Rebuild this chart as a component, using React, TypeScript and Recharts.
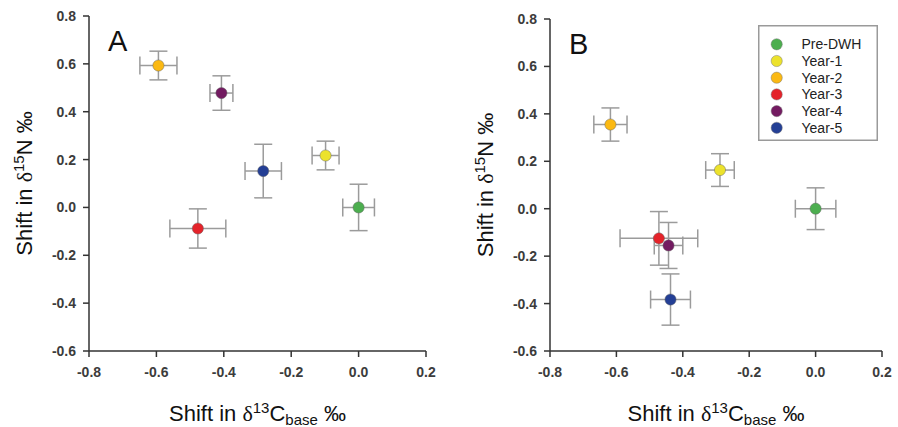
import React from 'react';
import { ScatterChart, Scatter, XAxis, YAxis, ErrorBar, Legend } from 'recharts';

const FONT = '"Liberation Sans", Arial, Helvetica, sans-serif';
const SERIF = '"Liberation Serif", "Times New Roman", serif';

// Periods (legend order) and their marker colours
const seriesNames = ['Pre-DWH', 'Year-1', 'Year-2', 'Year-3', 'Year-4', 'Year-5'];
const seriesColors = ['#4cae4f', '#ece22c', '#fbb913', '#e4232a', '#731b61', '#243f95'];

// Axis ticks
const xTicks = [-0.8, -0.6, -0.4, -0.2, 0.0, 0.2];
const yTicks = [-0.6, -0.4, -0.2, 0.0, 0.2, 0.4, 0.6, 0.8];

// Panel A: mean shifts and error half-widths (‰)
const shiftC13A = [0, -0.098, -0.594, -0.477, -0.407, -0.283];
const shiftN15A = [0, 0.217, 0.593, -0.088, 0.478, 0.152];
const errC13A = [0.047, 0.04, 0.055, 0.083, 0.034, 0.054];
const errN15A = [0.097, 0.06, 0.06, 0.082, 0.072, 0.112];

// Panel B: mean shifts and error half-widths (‰)
const shiftC13B = [0, -0.288, -0.618, -0.472, -0.443, -0.437];
const shiftN15B = [0, 0.163, 0.355, -0.125, -0.155, -0.383];
const errC13B = [0.061, 0.043, 0.05, 0.117, 0.043, 0.06];
const errN15B = [0.088, 0.069, 0.07, 0.113, 0.097, 0.108];

type Row = { x: number; y: number; ex: number; ey: number };

const buildSeries = (xs: number[], ys: number[], exs: number[], eys: number[]) =>
  seriesNames.map((name, i) => ({
    name,
    color: seriesColors[i],
    data: [{ x: xs[i], y: ys[i], ex: exs[i], ey: eys[i] }] as Row[],
  }));

const seriesA = buildSeries(shiftC13A, shiftN15A, errC13A, errN15A);
const seriesB = buildSeries(shiftC13B, shiftN15B, errC13B, errN15B);

const AXIS_COLOR = '#333';
const ERR_COLOR = '#9b9b9b';
const TICK_STYLE = { fill: '#3c3c3c', fontSize: 14, fontWeight: 700, fontFamily: FONT };

const fmt = (v: number) => v.toFixed(1);

// Y-axis title plus the panel letter in the top-left corner of the plot
const makeYTitle = (letter: string) => (props: any) => {
  const vb = props.viewBox || {};
  const plotLeft = vb.x + vb.width;
  const cy = vb.y + vb.height / 2;
  const bx = plotLeft - 57;
  return (
    <g>
      <text
        x={bx}
        y={cy}
        transform={`rotate(-90, ${bx}, ${cy})`}
        textAnchor="middle"
        fontFamily={FONT}
        fontSize={22}
        fill="#111"
      >
        <tspan>Shift in </tspan>
        <tspan fontFamily={SERIF}>δ</tspan>
        <tspan fontSize={15} dy={-8}>15</tspan>
        <tspan dy={8}>N ‰</tspan>
      </text>
      <text x={plotLeft + 19} y={vb.y + 35} fontFamily={FONT} fontSize={29} fill="#111">
        {letter}
      </text>
    </g>
  );
};

const XTitle = (props: any) => {
  const vb = props.viewBox || {};
  const cx = vb.x + vb.width / 2;
  const by = vb.y + 70;
  return (
    <text x={cx} y={by} textAnchor="middle" fontFamily={FONT} fontSize={22} fill="#111">
      <tspan>Shift in </tspan>
      <tspan fontFamily={SERIF}>δ</tspan>
      <tspan fontSize={15} dy={-8}>13</tspan>
      <tspan dy={8}>C</tspan>
      <tspan fontSize={15} dy={4}>base</tspan>
      <tspan dy={-4}> ‰</tspan>
    </text>
  );
};

const LegendBox = (props: any) => {
  const payload = props.payload || [];
  return (
    <svg width={120} height={116} style={{ display: 'block' }}>
      <rect x={0.75} y={0.75} width={118.5} height={114.5} fill="#fff" stroke="#9a9a9a" strokeWidth={1.5} />
      {payload.map((p: any, i: number) => {
        const cy = 19.3 + 16.7 * i;
        return (
          <g key={p.value}>
            <circle cx={18.7} cy={cy} r={5.6} fill={p.color} stroke="#777" strokeOpacity={0.6} strokeWidth={0.8} />
            <text x={43.5} y={cy + 5} fontFamily={FONT} fontSize={14} fill="#222">
              {p.value}
            </text>
          </g>
        );
      })}
    </svg>
  );
};

type PanelProps = {
  series: ReturnType<typeof buildSeries>;
  letter: string;
  width: number;
  margin: { top: number; right: number; bottom: number; left: number };
  yAxisWidth: number;
  showLegend?: boolean;
};

const Panel = ({ series, letter, width, margin, yAxisWidth, showLegend }: PanelProps) => (
  <ScatterChart width={width} height={427} margin={margin}>
    <XAxis
      type="number"
      dataKey="x"
      domain={[-0.8, 0.2]}
      ticks={xTicks}
      tickFormatter={fmt}
      allowDataOverflow
      axisLine={{ stroke: AXIS_COLOR, strokeWidth: 1.5 }}
      tickLine={{ stroke: AXIS_COLOR, strokeWidth: 1.5 }}
      tickSize={6}
      tickMargin={10}
      tick={TICK_STYLE}
      height={30}
      label={{ content: XTitle }}
    />
    <YAxis
      type="number"
      dataKey="y"
      domain={[-0.6, 0.8]}
      ticks={yTicks}
      tickFormatter={fmt}
      allowDataOverflow
      axisLine={{ stroke: AXIS_COLOR, strokeWidth: 1.5 }}
      tickLine={{ stroke: AXIS_COLOR, strokeWidth: 1.5 }}
      tickSize={6}
      tickMargin={7}
      tick={TICK_STYLE}
      width={yAxisWidth}
      label={{ content: makeYTitle(letter) }}
    />
    {series.map((s) => (
      <Scatter
        key={s.name}
        name={s.name}
        data={s.data}
        fill={s.color}
        isAnimationActive={false}
        shape={(p: any) => (
          <circle cx={p.cx} cy={p.cy} r={5.6} fill={s.color} stroke="#666" strokeOpacity={0.6} strokeWidth={0.8} />
        )}
      >
        <ErrorBar dataKey="ex" direction="x" width={9} stroke={ERR_COLOR} strokeWidth={1.5} isAnimationActive={false} />
        <ErrorBar dataKey="ey" direction="y" width={9} stroke={ERR_COLOR} strokeWidth={1.5} isAnimationActive={false} />
      </Scatter>
    ))}
    {showLegend && (
      <Legend
        layout="vertical"
        align="center"
        verticalAlign="middle"
        content={LegendBox}
        wrapperStyle={{ position: 'absolute', left: 308, top: 25, width: 120, height: 116 }}
      />
    )}
  </ScatterChart>
);

export default function App() {
  return (
    <div
      style={{
        position: 'absolute',
        left: 0,
        top: 0,
        width: 898,
        height: 427,
        background: '#fff',
        overflow: 'hidden',
      }}
    >
      <div style={{ position: 'absolute', left: 0, top: 0 }}>
        <Panel
          series={seriesA}
          letter="A"
          width={450}
          yAxisWidth={60}
          margin={{ top: 16, right: 24, bottom: 46, left: 29 }}
        />
      </div>
      <div style={{ position: 'absolute', left: 450, top: 0 }}>
        <Panel
          series={seriesB}
          letter="B"
          width={448}
          yAxisWidth={60}
          margin={{ top: 19, right: 16, bottom: 46, left: 40 }}
          showLegend
        />
      </div>
    </div>
  );
}
